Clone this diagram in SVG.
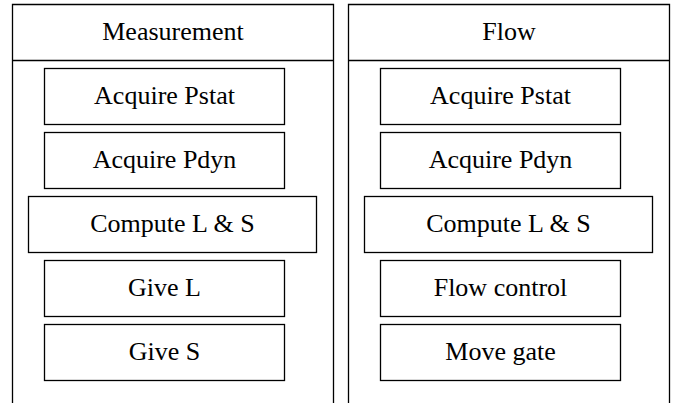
<svg xmlns="http://www.w3.org/2000/svg" width="674" height="403" viewBox="0 0 674 403">
<style>
.b{fill:#fff;stroke:#000;stroke-width:1.3}
.p{fill:none;stroke:#000;stroke-width:1.3}
text{font-family:"Liberation Serif","Times New Roman",serif;font-size:26px;fill:#000;text-anchor:middle}
</style>
<rect width="674" height="403" fill="#fff"/>
<g id="measurement">
<path class="p" d="M12.5,410 V4.5 H333.5 V410 M12.5,60.5 H333.5"/>
<text x="173" y="40">Measurement</text>
</g>
<g id="flow">
<path class="p" d="M348.5,410 V4.5 H669.5 V410 M348.5,60.5 H669.5"/>
<text x="509" y="40">Flow</text>
</g>
<g id="m-pstat"><rect class="b" x="44.5" y="68.5" width="240" height="56"/><text x="164.5" y="103.5">Acquire Pstat</text></g>
<g id="m-pdyn"><rect class="b" x="44.5" y="132.5" width="240" height="56"/><text x="164.5" y="167.5">Acquire Pdyn</text></g>
<g id="m-compute"><rect class="b" x="28.5" y="196.5" width="288" height="56"/><text x="172.5" y="231.5">Compute L &amp; S</text></g>
<g id="m-givel"><rect class="b" x="44.5" y="260.5" width="240" height="56"/><text x="164.5" y="295.5">Give L</text></g>
<g id="m-gives"><rect class="b" x="44.5" y="324.5" width="240" height="56"/><text x="164.5" y="359.5">Give S</text></g>
<g id="f-pstat"><rect class="b" x="380.5" y="68.5" width="240" height="56"/><text x="500.5" y="103.5">Acquire Pstat</text></g>
<g id="f-pdyn"><rect class="b" x="380.5" y="132.5" width="240" height="56"/><text x="500.5" y="167.5">Acquire Pdyn</text></g>
<g id="f-compute"><rect class="b" x="364.5" y="196.5" width="288" height="56"/><text x="508.5" y="231.5">Compute L &amp; S</text></g>
<g id="f-flowcontrol"><rect class="b" x="380.5" y="260.5" width="240" height="56"/><text x="500.5" y="295.5">Flow control</text></g>
<g id="f-movegate"><rect class="b" x="380.5" y="324.5" width="240" height="56"/><text x="500.5" y="359.5">Move gate</text></g>
<g id="connectors"></g>
</svg>
